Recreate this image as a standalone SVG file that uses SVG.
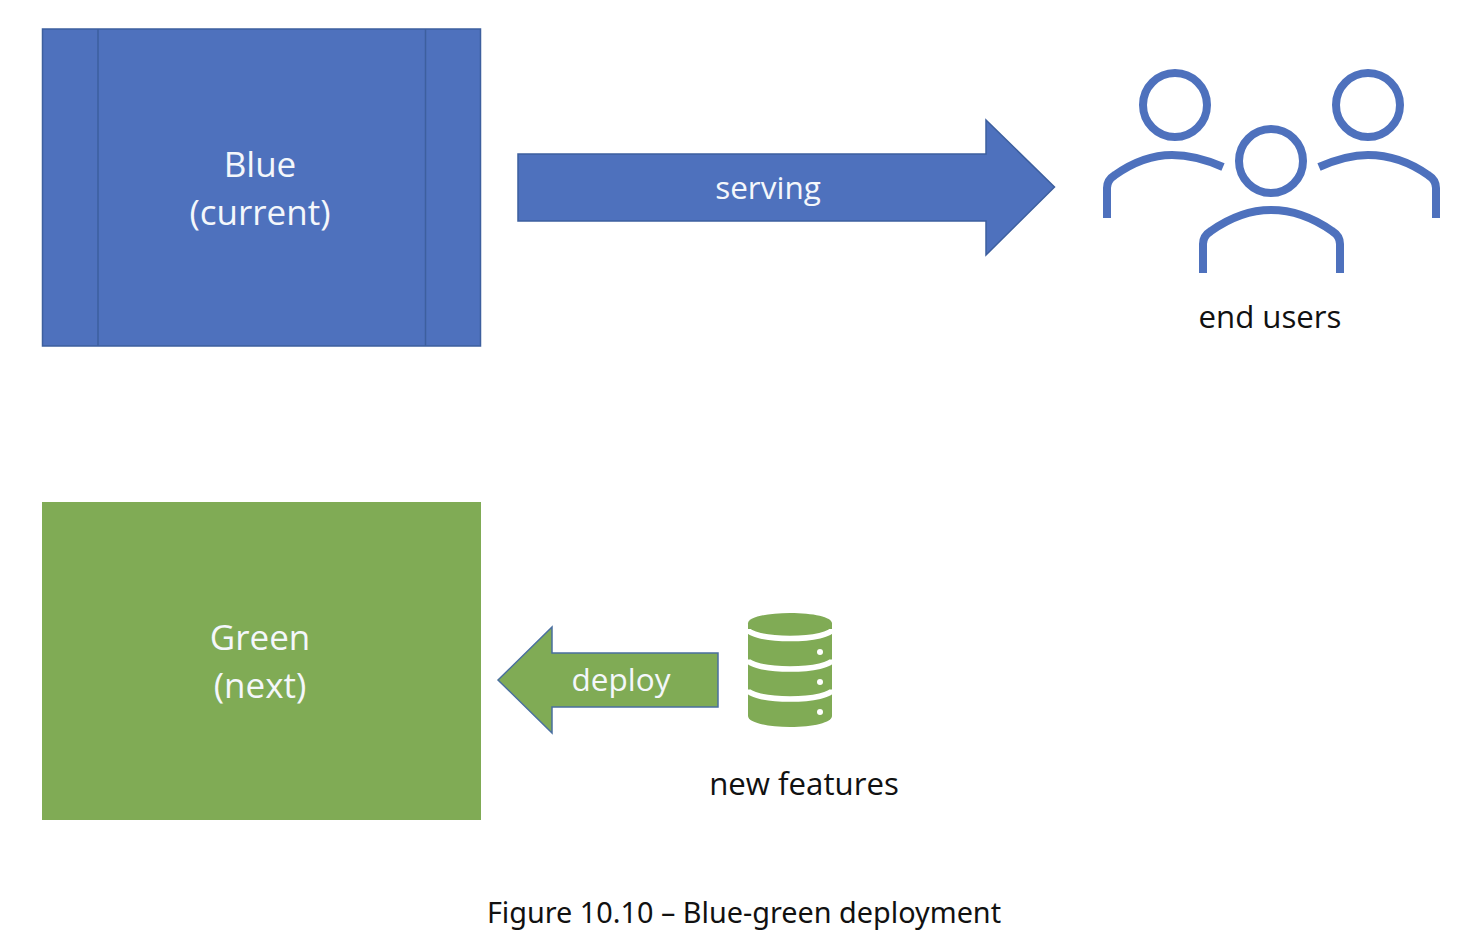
<svg xmlns="http://www.w3.org/2000/svg" width="1472" height="946" viewBox="0 0 1472 946">
<style>
text{font-family:"Open Sans","Noto Sans","Liberation Sans",sans-serif;text-anchor:middle}
.w{fill:#f4f7fb;font-size:35px;font-weight:500}
.w2{fill:#f4f7fb;font-size:31.500px;font-weight:500}
.k{fill:#111;font-size:31.200px;font-weight:500}
.cap{fill:#111;font-size:28.800px;font-family:"Noto Sans","Open Sans",sans-serif}
.blue{fill:#4e71bd;stroke:#3d5f9e;stroke-width:1.5}
.green{fill:#80ab55}
.u{fill:none;stroke:#4e71bd;stroke-width:8}
.g{fill:none;stroke:#fff;stroke-width:5.500}
</style>
<rect width="1472" height="946" fill="#fff"/>
<g id="blue-node">
<rect class="blue" x="42.500" y="29" width="438" height="317"/>
<path d="M98 29V346M425.500 29V346" fill="none" stroke="#3d5f9e" stroke-width="1.500"/>
<text class="w" x="260" y="177">Blue</text>
<text class="w" x="260" y="225">(current)</text>
</g>
<g id="green-node">
<rect class="green" x="42" y="502" width="439" height="318"/>
<text class="w" x="260" y="650">Green</text>
<text class="w" x="260" y="698">(next)</text>
</g>
<g id="connectors">
<g id="serving">
<path class="blue" d="M518 154H986V120L1054.500 187L986 255V221H518Z"/>
<text class="w2" x="768" y="199">serving</text>
</g>
<g id="deploy">
<path class="green" stroke="#4a6f9f" stroke-width="1.500" d="M498 680L552 627V653H718V707H552V733Z"/>
<text class="w2" x="621" y="691">deploy</text>
</g>
</g>
<g id="end-users">
<circle class="u" cx="1175" cy="105" r="32"/>
<circle class="u" cx="1368" cy="105" r="32"/>
<circle class="u" cx="1271" cy="161" r="32"/>
<path class="u" d="M1107 218V188Q1107 180 1115 175C1132 163 1150 155 1172 155C1190 155 1207 160 1223 167"/>
<path class="u" d="M1436 218V188Q1436 180 1428 175C1411 163 1391 155 1368 155C1351 155 1335 160 1319 167"/>
<path class="u" d="M1203 273V244Q1203 236 1211 231C1228 219 1248 210 1271 210C1294 210 1315 219 1332 231Q1340 236 1340 244V273"/>
<text class="k" x="1270" y="328">end users</text>
</g>
<g id="new-features">
<path class="green" d="M748 623.500C748 617 767 613 790 613C813 613 832 617 832 623.500V716C832 722.500 813 727 790 727C767 727 748 722.500 748 716Z"/>
<path class="g" d="M748 629A42 9.500 0 0 0 832 629M748 659.500A42 9.500 0 0 0 832 659.500M748 689.500A42 9.500 0 0 0 832 689.500"/>
<g fill="#fff"><circle cx="820" cy="652" r="3"/><circle cx="820" cy="682" r="3"/><circle cx="820" cy="712" r="3"/></g>
<text class="k" x="804" y="795">new features</text>
</g>
<text class="cap" x="744" y="923">Figure 10.10 – Blue-green deployment</text>
</svg>
